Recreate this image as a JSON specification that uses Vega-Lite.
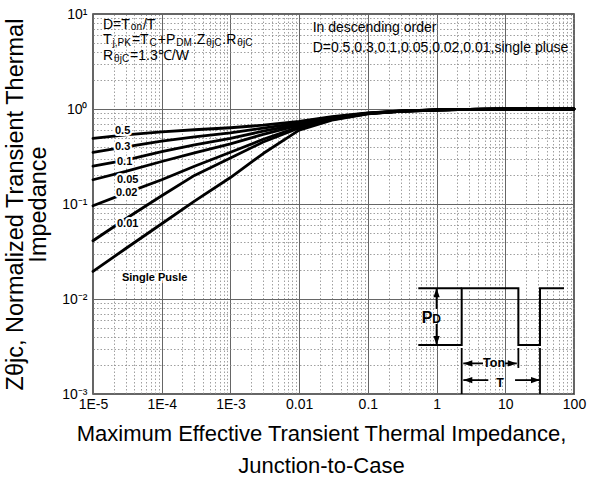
{
  "$schema": "https://vega.github.io/schema/vega-lite/v6.json",
  "description": "Normalized transient thermal impedance, junction-to-case, vs pulse width for several duty cycles",
  "autosize": {"type": "none"},
  "padding": {"left": 93, "top": 14, "right": 40, "bottom": 96},
  "width": 481,
  "height": 380,
  "background": "white",
  "config": {
    "font": "Liberation Sans",
    "view": {"stroke": "#333", "strokeWidth": 1.5},
    "axis": {
      "ticks": false,
      "domain": false,
      "grid": true,
      "gridColor": {"condition": {"test": "abs(log(datum.value)/LN10 - round(log(datum.value)/LN10)) < 0.001", "value": "#666"}, "value": "#888"},
      "gridDash": {"condition": {"test": "abs(log(datum.value)/LN10 - round(log(datum.value)/LN10)) < 0.001", "value": []}, "value": [1.5, 2]},
      "gridWidth": {"condition": {"test": "abs(log(datum.value)/LN10 - round(log(datum.value)/LN10)) < 0.001", "value": 1}, "value": 0.8},
      "labelFontSize": 14,
      "labelColor": "black",
      "labelOverlap": false,
      "labelFlush": false,
      "titleColor": "black",
      "titleFontWeight": "normal",
      "titleFontSize": 22
    }
  },
  "datasets": {
    "curves": [
      {"D": "0.5", "t": 1e-5, "z": 0.49}, {"D": "0.5", "t": 3e-5, "z": 0.535}, {"D": "0.5", "t": 1e-4, "z": 0.575}, {"D": "0.5", "t": 3e-4, "z": 0.605}, {"D": "0.5", "t": 1e-3, "z": 0.635}, {"D": "0.5", "t": 3e-3, "z": 0.675}, {"D": "0.5", "t": 0.01, "z": 0.74}, {"D": "0.5", "t": 0.03, "z": 0.83}, {"D": "0.5", "t": 0.1, "z": 0.91}, {"D": "0.5", "t": 0.3, "z": 0.955}, {"D": "0.5", "t": 1, "z": 0.98}, {"D": "0.5", "t": 3, "z": 0.993}, {"D": "0.5", "t": 10, "z": 1.0}, {"D": "0.5", "t": 100, "z": 1.0},
      {"D": "0.3", "t": 1e-5, "z": 0.35}, {"D": "0.3", "t": 3e-5, "z": 0.4}, {"D": "0.3", "t": 1e-4, "z": 0.46}, {"D": "0.3", "t": 3e-4, "z": 0.51}, {"D": "0.3", "t": 1e-3, "z": 0.56}, {"D": "0.3", "t": 3e-3, "z": 0.63}, {"D": "0.3", "t": 0.01, "z": 0.715}, {"D": "0.3", "t": 0.03, "z": 0.815}, {"D": "0.3", "t": 0.1, "z": 0.905}, {"D": "0.3", "t": 0.3, "z": 0.953}, {"D": "0.3", "t": 1, "z": 0.98}, {"D": "0.3", "t": 3, "z": 0.993}, {"D": "0.3", "t": 10, "z": 1.0}, {"D": "0.3", "t": 100, "z": 1.0},
      {"D": "0.1", "t": 1e-5, "z": 0.25}, {"D": "0.1", "t": 3e-5, "z": 0.29}, {"D": "0.1", "t": 1e-4, "z": 0.355}, {"D": "0.1", "t": 3e-4, "z": 0.42}, {"D": "0.1", "t": 1e-3, "z": 0.49}, {"D": "0.1", "t": 3e-3, "z": 0.585}, {"D": "0.1", "t": 0.01, "z": 0.695}, {"D": "0.1", "t": 0.03, "z": 0.805}, {"D": "0.1", "t": 0.1, "z": 0.9}, {"D": "0.1", "t": 0.3, "z": 0.95}, {"D": "0.1", "t": 1, "z": 0.978}, {"D": "0.1", "t": 3, "z": 0.992}, {"D": "0.1", "t": 10, "z": 1.0}, {"D": "0.1", "t": 100, "z": 1.0},
      {"D": "0.05", "t": 1e-5, "z": 0.18}, {"D": "0.05", "t": 3e-5, "z": 0.22}, {"D": "0.05", "t": 1e-4, "z": 0.28}, {"D": "0.05", "t": 3e-4, "z": 0.345}, {"D": "0.05", "t": 1e-3, "z": 0.43}, {"D": "0.05", "t": 3e-3, "z": 0.54}, {"D": "0.05", "t": 0.01, "z": 0.675}, {"D": "0.05", "t": 0.03, "z": 0.795}, {"D": "0.05", "t": 0.1, "z": 0.898}, {"D": "0.05", "t": 0.3, "z": 0.948}, {"D": "0.05", "t": 1, "z": 0.977}, {"D": "0.05", "t": 3, "z": 0.992}, {"D": "0.05", "t": 10, "z": 1.0}, {"D": "0.05", "t": 100, "z": 1.0},
      {"D": "0.02", "t": 1e-5, "z": 0.096}, {"D": "0.02", "t": 3e-5, "z": 0.13}, {"D": "0.02", "t": 1e-4, "z": 0.18}, {"D": "0.02", "t": 3e-4, "z": 0.25}, {"D": "0.02", "t": 1e-3, "z": 0.35}, {"D": "0.02", "t": 3e-3, "z": 0.48}, {"D": "0.02", "t": 0.01, "z": 0.65}, {"D": "0.02", "t": 0.03, "z": 0.785}, {"D": "0.02", "t": 0.1, "z": 0.895}, {"D": "0.02", "t": 0.3, "z": 0.946}, {"D": "0.02", "t": 1, "z": 0.976}, {"D": "0.02", "t": 3, "z": 0.991}, {"D": "0.02", "t": 10, "z": 1.0}, {"D": "0.02", "t": 100, "z": 1.0},
      {"D": "0.01", "t": 1e-5, "z": 0.041}, {"D": "0.01", "t": 3e-5, "z": 0.07}, {"D": "0.01", "t": 1e-4, "z": 0.122}, {"D": "0.01", "t": 3e-4, "z": 0.2}, {"D": "0.01", "t": 1e-3, "z": 0.305}, {"D": "0.01", "t": 3e-3, "z": 0.45}, {"D": "0.01", "t": 0.01, "z": 0.63}, {"D": "0.01", "t": 0.03, "z": 0.775}, {"D": "0.01", "t": 0.1, "z": 0.892}, {"D": "0.01", "t": 0.3, "z": 0.945}, {"D": "0.01", "t": 1, "z": 0.975}, {"D": "0.01", "t": 3, "z": 0.99}, {"D": "0.01", "t": 10, "z": 1.0}, {"D": "0.01", "t": 100, "z": 1.0},
      {"D": "single", "t": 1e-5, "z": 0.0195}, {"D": "single", "t": 3e-5, "z": 0.034}, {"D": "single", "t": 1e-4, "z": 0.062}, {"D": "single", "t": 3e-4, "z": 0.107}, {"D": "single", "t": 1e-3, "z": 0.19}, {"D": "single", "t": 3e-3, "z": 0.34}, {"D": "single", "t": 0.01, "z": 0.6}, {"D": "single", "t": 0.03, "z": 0.765}, {"D": "single", "t": 0.1, "z": 0.888}, {"D": "single", "t": 0.3, "z": 0.943}, {"D": "single", "t": 1, "z": 0.974}, {"D": "single", "t": 3, "z": 0.99}, {"D": "single", "t": 10, "z": 0.999}, {"D": "single", "t": 100, "z": 1.0}
    ],
    "pulse": [
      {"i": 1, "t": 0.542, "z": 0.00328}, {"i": 2, "t": 2.32, "z": 0.00328}, {"i": 3, "t": 2.32, "z": 0.01297}, {"i": 4, "t": 15.5, "z": 0.01297},
      {"i": 5, "t": 15.5, "z": 0.00328}, {"i": 6, "t": 32, "z": 0.00328}, {"i": 7, "t": 32, "z": 0.01297}, {"i": 8, "t": 71.6, "z": 0.01297}
    ],
    "segments": [
      {"t": 0.542, "t2": 2.32, "z": 0.01297, "z2": 0.01297},
      {"t": 1.0, "t2": 1.0, "z": 0.01297, "z2": 0.00785},
      {"t": 1.0, "t2": 1.0, "z": 0.00546, "z2": 0.00328},
      {"t": 2.32, "t2": 2.32, "z": 0.00305, "z2": 0.001},
      {"t": 15.5, "t2": 15.5, "z": 0.00305, "z2": 0.00188},
      {"t": 32, "t2": 32, "z": 0.00305, "z2": 0.001},
      {"t": 2.45, "t2": 4.74, "z": 0.0021, "z2": 0.0021},
      {"t": 9.91, "t2": 14.7, "z": 0.0021, "z2": 0.0021},
      {"t": 2.45, "t2": 5.66, "z": 0.0014, "z2": 0.0014},
      {"t": 13.87, "t2": 32, "z": 0.0014, "z2": 0.0014}
    ],
    "heads": [
      {"t": 1.0, "z": 0.01297, "dir": "up"},
      {"t": 1.0, "z": 0.00328, "dir": "down"},
      {"t": 2.45, "z": 0.0021, "dir": "left"},
      {"t": 14.7, "z": 0.0021, "dir": "right"},
      {"t": 2.45, "z": 0.0014, "dir": "left"},
      {"t": 32, "z": 0.0014, "dir": "right"}
    ],
    "notes": [
      {"t": 1.398e-5, "z": 6.90, "text": "D=T", "part": "base"},
      {"t": 3.554e-5, "z": 6.79, "text": "on", "part": "sub"},
      {"t": 5.335e-5, "z": 6.90, "text": "/T", "part": "base"},
      {"t": 1.398e-5, "z": 4.83, "text": "T", "part": "base"},
      {"t": 1.925e-5, "z": 4.60, "text": "j,PK", "part": "sub"},
      {"t": 3.681e-5, "z": 4.83, "text": "=T", "part": "base"},
      {"t": 6.668e-5, "z": 4.60, "text": "C", "part": "sub"},
      {"t": 8.783e-5, "z": 4.83, "text": "+P", "part": "base"},
      {"t": 1.633e-4, "z": 4.60, "text": "DM", "part": "sub"},
      {"t": 2.844e-4, "z": 4.83, "text": ".Z", "part": "base"},
      {"t": 4.463e-4, "z": 4.60, "text": "θjC", "part": "sub"},
      {"t": 7.63e-4, "z": 4.83, "text": ".R", "part": "base"},
      {"t": 1.261e-3, "z": 4.60, "text": "θjC", "part": "sub"},
      {"t": 1.398e-5, "z": 3.28, "text": "R", "part": "base"},
      {"t": 2.029e-5, "z": 3.13, "text": "θjC", "part": "sub"},
      {"t": 3.468e-5, "z": 3.28, "text": "=1.3℃/W", "part": "base"},
      {"t": 0.01573, "z": 6.41, "text": "In descending order", "part": "base"},
      {"t": 0.01573, "z": 4.01, "text": "D=0.5,0.3,0.1,0.05,0.02,0.01,single pluse", "part": "base"},
      {"t": 2.089e-5, "z": 0.587, "text": "0.5", "part": "curve"},
      {"t": 2.089e-5, "z": 0.3936, "text": "0.3", "part": "curve"},
      {"t": 2.234e-5, "z": 0.2735, "text": "0.1", "part": "curve"},
      {"t": 2.234e-5, "z": 0.181, "text": "0.05", "part": "curve"},
      {"t": 2.16e-5, "z": 0.1306, "text": "0.02", "part": "curve"},
      {"t": 2.234e-5, "z": 0.0616, "text": "0.01", "part": "curve"},
      {"t": 2.64e-5, "z": 0.01683, "text": "Single Pusle", "part": "curve"},
      {"t": 0.608, "z": 0.00563, "text": "P", "part": "pd"},
      {"t": 0.867, "z": 0.00563, "text": "D", "part": "pdsub"},
      {"t": 6.86, "z": 0.0021, "text": "Ton", "part": "span"},
      {"t": 8.38, "z": 0.00132, "text": "T", "part": "span"}
    ]
  },
  "encoding": {
    "x": {
      "field": "t",
      "type": "quantitative",
      "scale": {"type": "log", "domain": [1e-5, 100], "nice": false},
      "axis": {
        "values": [1e-5, 2e-5, 3e-5, 4e-5, 5e-5, 6e-5, 7e-5, 8e-5, 9e-5, 1e-4, 2e-4, 3e-4, 4e-4, 5e-4, 6e-4, 7e-4, 8e-4, 9e-4, 0.001, 0.002, 0.003, 0.004, 0.005, 0.006, 0.007, 0.008, 0.009, 0.01, 0.02, 0.03, 0.04, 0.05, 0.06, 0.07, 0.08, 0.09, 0.1, 0.2, 0.3, 0.4, 0.5, 0.6, 0.7, 0.8, 0.9, 1, 2, 3, 4, 5, 6, 7, 8, 9, 10, 20, 30, 40, 50, 60, 70, 80, 90, 100],
        "labelExpr": "abs(log(datum.value)/LN10 - round(log(datum.value)/LN10)) > 0.001 ? '' : (datum.value < 0.005 ? '1E' + round(log(datum.value)/LN10) : '' + datum.value)",
        "labelPadding": 3,
        "title": ["Maximum Effective Transient Thermal Impedance,", "Junction-to-Case"],
        "titleLineHeight": 32,
        "titlePadding": 12,
        "titleX": 228
      }
    },
    "y": {
      "field": "z",
      "type": "quantitative",
      "scale": {"type": "log", "domain": [0.001, 10], "nice": false},
      "axis": {
        "values": [0.001, 0.002, 0.003, 0.004, 0.005, 0.006, 0.007, 0.008, 0.009, 0.01, 0.02, 0.03, 0.04, 0.05, 0.06, 0.07, 0.08, 0.09, 0.1, 0.2, 0.3, 0.4, 0.5, 0.6, 0.7, 0.8, 0.9, 1, 2, 3, 4, 5, 6, 7, 8, 9, 10],
        "labelExpr": "abs(log(datum.value)/LN10 - round(log(datum.value)/LN10)) > 0.001 ? '' : '10' + replace(replace(replace(replace(replace('' + round(log(datum.value)/LN10), '-', '⁻'), '0', '⁰'), '1', '¹'), '2', '²'), '3', '³')",
        "labelPadding": 6,
        "labelBaseline": "middle",
        "title": ["Zθjc, Normalized Transient Thermal", "Impedance"],
        "titleFontSize": 23.5,
        "titleLineHeight": 23,
        "titlePadding": 11
      }
    }
  },
  "layer": [
    {
      "data": {"name": "curves"},
      "mark": {"type": "line", "color": "black", "strokeWidth": 2.8, "strokeCap": "round", "strokeJoin": "round"},
      "encoding": {"detail": {"field": "D", "type": "nominal"}}
    },
    {
      "data": {"name": "pulse"},
      "mark": {"type": "line", "color": "black", "strokeWidth": 2},
      "encoding": {"order": {"field": "i", "type": "quantitative"}}
    },
    {
      "data": {"name": "segments"},
      "mark": {"type": "rule", "color": "black", "strokeWidth": 1.8},
      "encoding": {"x2": {"field": "t2"}, "y2": {"field": "z2"}}
    },
    {
      "data": {"name": "heads"},
      "mark": {"type": "point", "filled": true, "color": "black", "opacity": 1, "size": 81, "strokeWidth": 0},
      "encoding": {
        "shape": {
          "field": "dir",
          "type": "nominal",
          "scale": {"domain": ["left", "right", "up", "down"], "range": ["M0,0L2,-0.7L2,0.7Z", "M0,0L-2,-0.7L-2,0.7Z", "M0,0L-0.7,2L0.7,2Z", "M0,0L-0.7,-2L0.7,-2Z"]},
          "legend": null
        }
      }
    },
    {
      "data": {"name": "notes"},
      "transform": [{"filter": "datum.part == 'base'"}],
      "mark": {"type": "text", "align": "left", "baseline": "alphabetic", "fontSize": 14, "color": "black"},
      "encoding": {"text": {"field": "text"}}
    },
    {
      "data": {"name": "notes"},
      "transform": [{"filter": "datum.part == 'sub'"}],
      "mark": {"type": "text", "align": "left", "baseline": "alphabetic", "fontSize": 10, "color": "black"},
      "encoding": {"text": {"field": "text"}}
    },
    {
      "data": {"name": "notes"},
      "transform": [{"filter": "datum.part == 'curve'"}],
      "mark": {"type": "text", "align": "left", "baseline": "middle", "fontSize": 11, "fontWeight": "bold", "fill": "white", "stroke": "white", "strokeWidth": 4},
      "encoding": {"text": {"field": "text"}}
    },
    {
      "data": {"name": "notes"},
      "transform": [{"filter": "datum.part == 'curve'"}],
      "mark": {"type": "text", "align": "left", "baseline": "middle", "fontSize": 11, "fontWeight": "bold", "color": "black"},
      "encoding": {"text": {"field": "text"}}
    },
    {
      "data": {"name": "notes"},
      "transform": [{"filter": "datum.part == 'pd'"}],
      "mark": {"type": "text", "align": "left", "baseline": "alphabetic", "fontSize": 16, "fontWeight": "bold", "color": "black"},
      "encoding": {"text": {"field": "text"}}
    },
    {
      "data": {"name": "notes"},
      "transform": [{"filter": "datum.part == 'pdsub'"}],
      "mark": {"type": "text", "align": "left", "baseline": "alphabetic", "fontSize": 12, "fontWeight": "bold", "color": "black"},
      "encoding": {"text": {"field": "text"}}
    },
    {
      "data": {"name": "notes"},
      "transform": [{"filter": "datum.part == 'span'"}],
      "mark": {"type": "text", "align": "center", "baseline": "middle", "fontSize": 12.5, "fontWeight": "bold", "color": "black"},
      "encoding": {"text": {"field": "text"}}
    }
  ]
}
